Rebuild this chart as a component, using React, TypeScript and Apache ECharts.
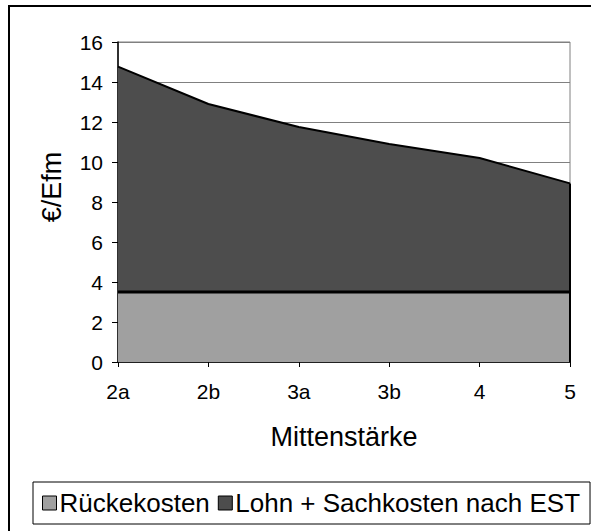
import React, { useEffect, useRef } from "react";
import * as echarts from "echarts";

const categories = ["2a", "2b", "3a", "3b", "4", "5"];
const rueckekosten = [3.5, 3.5, 3.5, 3.5, 3.5, 3.5];
const lohnSachkosten = [11.27, 9.4, 8.25, 7.4, 6.7, 5.43];
const seriesNames = ["Rückekosten", "Lohn + Sachkosten nach EST"];
const yAxisName = "€/Efm";
const xAxisName = "Mittenstärke";

export default function App() {
  const ref = useRef<HTMLDivElement>(null);
  useEffect(() => {
    if (!ref.current) return;
    const chart = echarts.init(ref.current, null, { renderer: "svg" });
    const font = "Liberation Sans";
    const lastIdx = categories.length - 1;
    const lastTotal = rueckekosten[lastIdx] + lohnSachkosten[lastIdx];
    chart.setOption({
      animation: false,
      backgroundColor: "#fff",
      textStyle: { fontFamily: font, color: "#000" },
      grid: {
        left: 118,
        top: 42,
        right: 21,
        bottom: 169,
        show: true,
        borderColor: "#808080",
        borderWidth: 1,
        backgroundColor: "transparent",
      },
      xAxis: {
        type: "category",
        data: categories,
        boundaryGap: false,
        name: xAxisName,
        nameLocation: "middle",
        nameGap: 61,
        nameTextStyle: { fontSize: 27, color: "#000000", fontFamily: font },
        axisLine: { lineStyle: { color: "#000", width: 1.5 } },
        axisTick: { show: true, length: 5, lineStyle: { color: "#000" } },
        axisLabel: { fontSize: 21, color: "#000", margin: 19, fontFamily: font },
        splitLine: { show: false },
      },
      yAxis: {
        type: "value",
        min: 0,
        max: 16,
        interval: 2,
        name: yAxisName,
        nameLocation: "middle",
        nameGap: 53,
        nameTextStyle: {
          fontSize: 27,
          color: "#000000",
          fontFamily: font,
          padding: [0, 0, 0, 30],
        },
        axisLine: { show: true, lineStyle: { color: "#000", width: 1.5 } },
        axisTick: { show: true, length: 6, lineStyle: { color: "#000" } },
        axisLabel: { fontSize: 21, color: "#000", margin: 15, fontFamily: font },
        splitLine: { show: true, lineStyle: { color: "#808080", width: 1 } },
      },
      legend: {
        left: 33,
        top: 482,
        orient: "horizontal",
        icon: "rect",
        itemWidth: 14,
        itemHeight: 14,
        itemGap: 8,
        padding: [8, 10, 8, 9],
        borderColor: "#000",
        borderWidth: 1,
        textStyle: { fontSize: 26, color: "#000", fontFamily: font, padding: [0, 0, 0, -2] },
        itemStyle: { borderColor: "#000", borderWidth: 1 },
        data: seriesNames,
      },
      graphic: [
        {
          type: "rect",
          shape: { x: 9, y: 6, width: 700, height: 700 },
          style: { fill: "none", stroke: "#000", lineWidth: 2 },
          silent: true,
        },
      ],
      series: [
        {
          name: seriesNames[0],
          type: "line",
          stack: "total",
          data: rueckekosten,
          showSymbol: false,
          symbol: "none",
          lineStyle: { color: "#000", width: 3 },
          itemStyle: { color: "#A0A0A0" },
          areaStyle: { color: "#A0A0A0", opacity: 1 },
          z: 4,
        },
        {
          name: seriesNames[1],
          type: "line",
          stack: "total",
          data: lohnSachkosten,
          showSymbol: false,
          symbol: "none",
          lineStyle: { color: "#000", width: 2 },
          itemStyle: { color: "#4D4D4D" },
          areaStyle: { color: "#4D4D4D", opacity: 1 },
          z: 3,
          markLine: {
            silent: true,
            symbol: "none",
            label: { show: false },
            lineStyle: { color: "#000", width: 2, type: "solid" },
            data: [
              [
                { coord: [lastIdx, 0] },
                { coord: [lastIdx, lastTotal] },
              ],
            ],
          },
        },
      ],
    });
    return () => chart.dispose();
  }, []);
  return (
    <div
      ref={ref}
      style={{ position: "fixed", left: 0, top: 0, width: 591, height: 531 }}
    />
  );
}
